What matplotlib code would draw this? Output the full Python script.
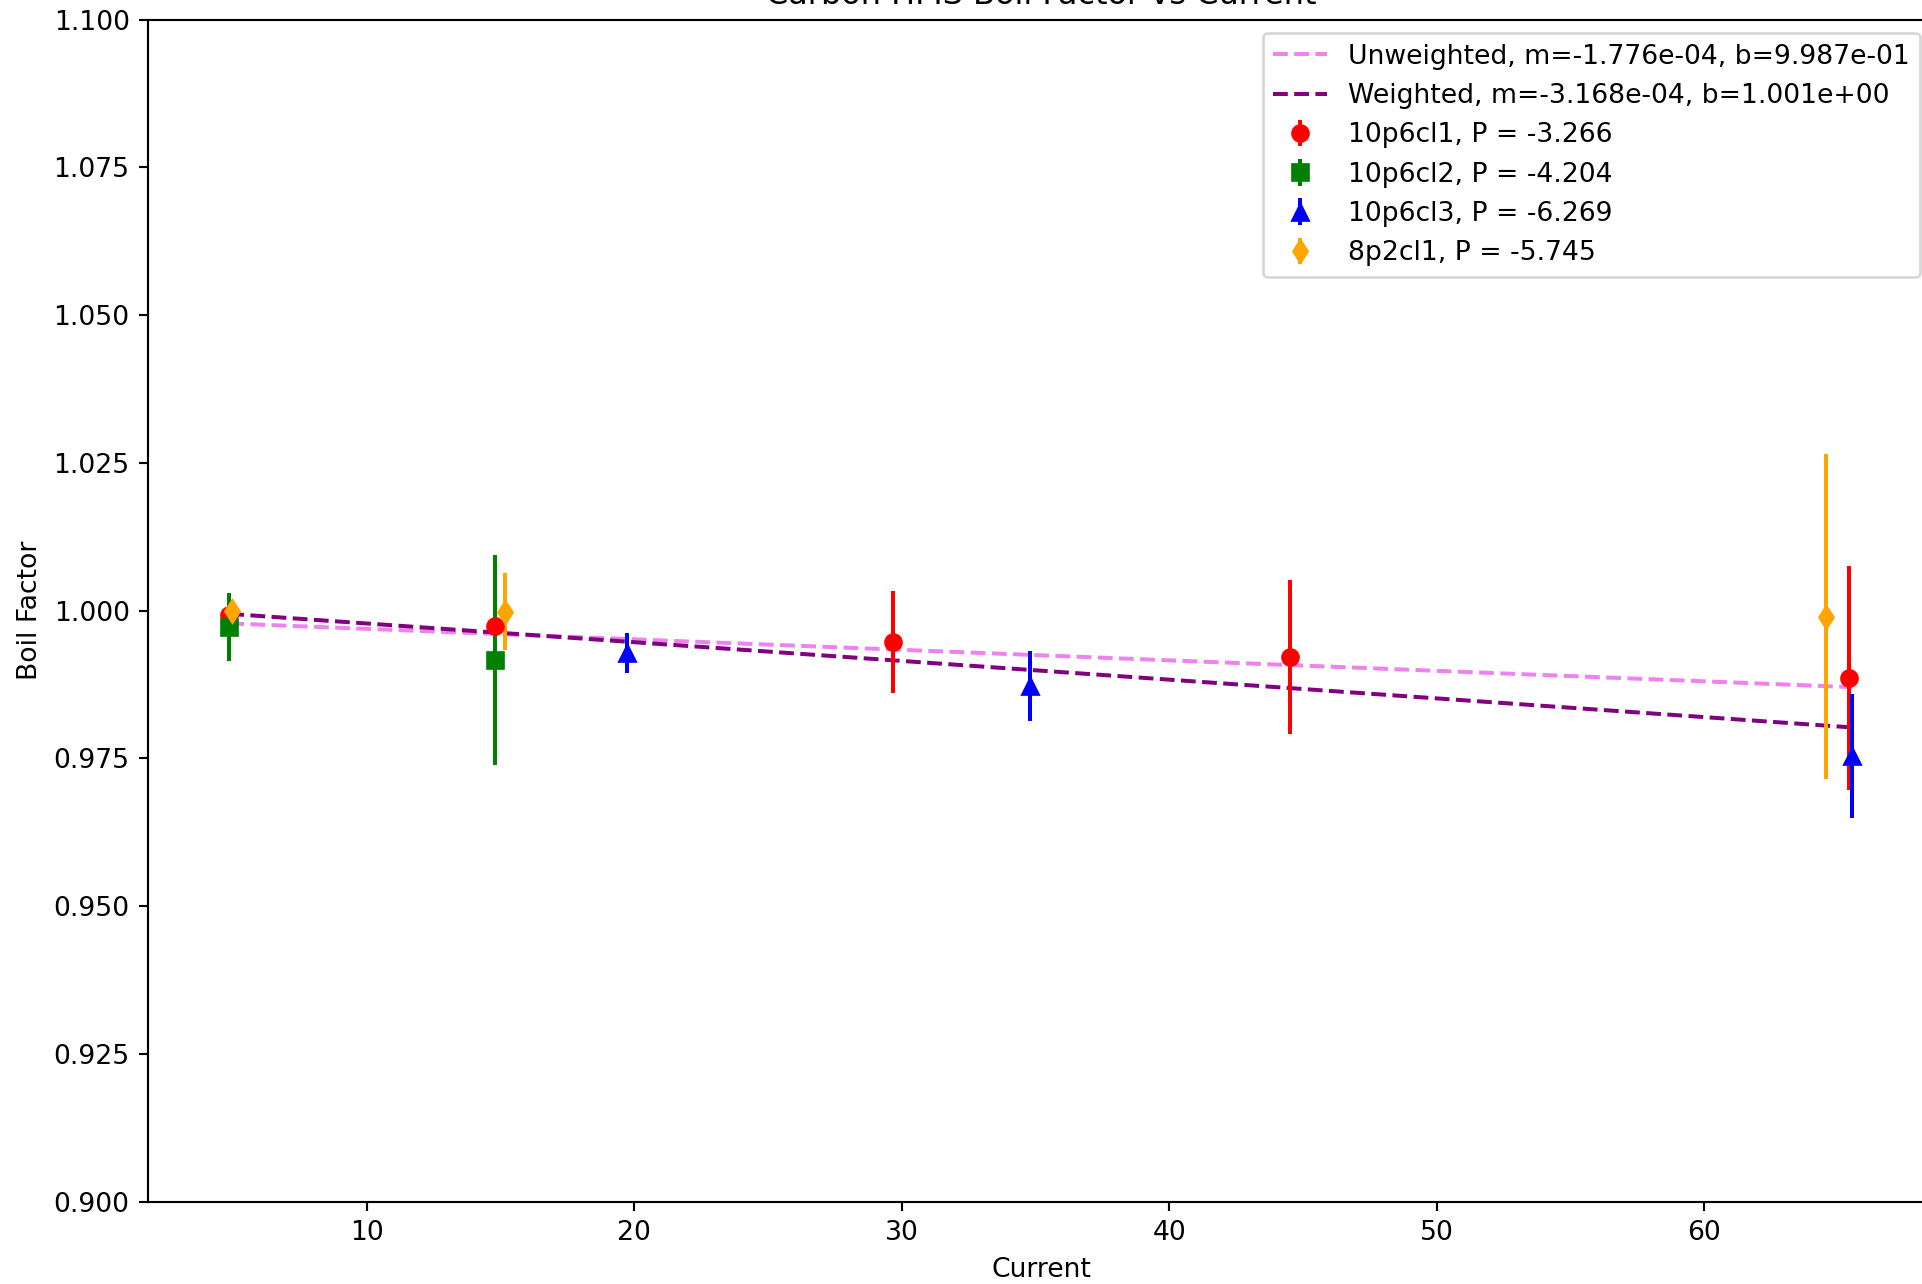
import numpy as np
from matplotlib import pyplot as plt

# data
x_cl1 = [4.86, 14.81, 29.69, 44.52, 65.42]
y_cl1 = [0.9992, 0.9974, 0.9947, 0.9922, 0.9886]
e_cl1 = [0.002, 0.0042, 0.0087, 0.013, 0.019]

x_cl2 = [4.86, 14.81]
y_cl2 = [0.9972, 0.9917]
e_cl2 = [0.0058, 0.0178]

x_cl3 = [19.73, 34.80, 65.54]
y_cl3 = [0.9928, 0.9873, 0.9754]
e_cl3 = [0.0034, 0.0059, 0.0105]

x_8p2 = [4.98, 15.17, 64.56]
y_8p2 = [1.0000, 0.9998, 0.9990]
e_8p2 = [0.001, 0.0065, 0.0275]

p_vals = [-3.266, -4.204, -6.269, -5.745]

# fit results (from legend)
m_unw, b_unw = -1.776e-04, 9.987e-01
m_w, b_w = -3.168e-04, 1.001e+00

fig = plt.figure(figsize=(1922 / 192, 1284 / 192), dpi=192)
ax = fig.add_axes([0.0772, 0.0641, 1.0061 - 0.0772, 0.9847 - 0.0641])

all_x = x_cl1 + x_cl2 + x_cl3 + x_8p2
x_fit = np.array([min(all_x), max(all_x)])

ax.plot(x_fit, m_unw * x_fit + b_unw, '--', color='violet',
        label='Unweighted, m=%.3e, b=%.3e' % (m_unw, b_unw))
ax.plot(x_fit, m_w * x_fit + b_w, '--', color='purple',
        label='Weighted, m=%.3e, b=%.3e' % (m_w, b_w))

ax.errorbar(x_cl1, y_cl1, yerr=e_cl1, fmt='o', color='red',
            label='10p6cl1, P = %.3f' % p_vals[0])
ax.errorbar(x_cl2, y_cl2, yerr=e_cl2, fmt='s', color='green',
            label='10p6cl2, P = %.3f' % p_vals[1])
ax.errorbar(x_cl3, y_cl3, yerr=e_cl3, fmt='^', color='blue',
            label='10p6cl3, P = %.3f' % p_vals[2])
ax.errorbar(x_8p2, y_8p2, yerr=e_8p2, fmt='d', color='orange',
            label='8p2cl1, P = %.3f' % p_vals[3])

ax.set_xlim(1.836, 68.58)
ax.set_ylim(0.9, 1.1)
ax.set_title('Carbon HMS Boil Factor vs Current')
ax.set_xlabel('Current')
ax.set_ylabel('Boil Factor')
ax.legend(loc='upper right')

fig.savefig('out.png', dpi=192)
